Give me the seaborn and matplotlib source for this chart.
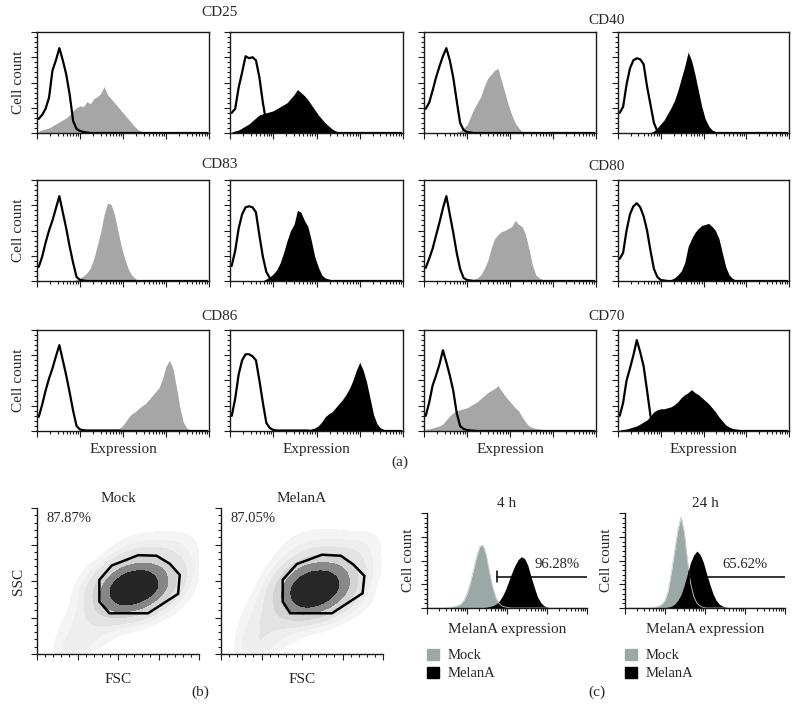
"""Flow cytometry panel: marker histograms (a), FSC/SSC gates (b), MelanA expression (c)."""
import numpy as np
import pandas as pd
import matplotlib
matplotlib.use('Agg')
import matplotlib.pyplot as plt
from matplotlib.ticker import MultipleLocator, FixedLocator, NullFormatter
from matplotlib.patches import Patch, Polygon
import seaborn as sns

sns.set_theme(style='white')
plt.rcParams['font.family'] = ['Liberation Serif', 'DejaVu Serif']
plt.rcParams.update({'font.size': 10.5, 'axes.linewidth': 1.0, 'axes.edgecolor': 'black'})

# ---------- data: 50 log bins over 4 decades, heights in % of axis ----------
CD25_GRAY_ISO = [14, 18, 24, 35, 62, 72, 84, 72, 58, 38, 12, 4, 2, 1, 0.5, 0, 0, 0, 0, 0,
                 0, 0, 0, 0, 0, 0, 0, 0, 0, 0, 0, 0, 0, 0, 0, 0, 0, 0, 0, 0, 0, 0, 0, 0, 0, 0, 0, 0, 0, 0]
CD25_GRAY = [2, 3, 4, 5, 7, 9, 11, 13, 15, 18, 22, 25, 27, 26, 31, 29, 34, 36, 39, 46,
             38, 34, 30, 26, 22, 18, 14, 10, 6, 3, 1.5, 0.8, 0.3, 0, 0, 0, 0, 0, 0, 0, 0, 0, 0, 0, 0, 0, 0, 0, 0, 0]
CD25_BLACK_ISO = [20, 24, 45, 60, 76, 74, 75, 72, 55, 30, 10, 4, 1.5, 0.5, 0, 0, 0, 0, 0, 0,
                  0, 0, 0, 0, 0, 0, 0, 0, 0, 0, 0, 0, 0, 0, 0, 0, 0, 0, 0, 0, 0, 0, 0, 0, 0, 0, 0, 0, 0, 0]
CD25_BLACK = [1, 2, 3, 5, 7, 9, 12, 15, 18, 19, 20, 21, 22, 24, 26, 28, 30, 34, 38, 43,
              40, 37, 33, 28, 23, 18, 14, 10, 7, 4, 2, 1, 0.5, 0.3, 0, 0, 0, 0, 0, 0, 0, 0, 0, 0, 0, 0, 0, 0, 0, 0]

CD40_GRAY_ISO = [24, 30, 42, 55, 66, 76, 84, 72, 55, 32, 10, 3, 1, 0.5, 0, 0, 0, 0, 0, 0,
                 0, 0, 0, 0, 0, 0, 0, 0, 0, 0, 0, 0, 0, 0, 0, 0, 0, 0, 0, 0, 0, 0, 0, 0, 0, 0, 0, 0, 0, 0]
CD40_GRAY = [0, 0, 0, 0, 0, 0, 0, 0, 0, 0.5, 2, 5, 8, 16, 24, 30, 36, 46, 54, 58,
             62, 64, 52, 40, 28, 18, 10, 5, 1.5, 0.5, 0, 0, 0, 0, 0, 0, 0, 0, 0, 0, 0, 0, 0, 0, 0, 0, 0, 0, 0, 0]
CD40_BLACK_ISO = [20, 26, 48, 64, 72, 74, 73, 68, 46, 28, 10, 2, 0.5, 0, 0, 0, 0, 0, 0, 0,
                  0, 0, 0, 0, 0, 0, 0, 0, 0, 0, 0, 0, 0, 0, 0, 0, 0, 0, 0, 0, 0, 0, 0, 0, 0, 0, 0, 0, 0, 0]
CD40_BLACK = [0, 0, 0, 0, 0, 0, 0, 0, 0, 0.5, 2, 5, 9, 13, 19, 25, 32, 42, 54, 66,
              80, 72, 58, 42, 26, 14, 7, 3, 1.5, 0.5, 0, 0, 0, 0, 0, 0, 0, 0, 0, 0, 0, 0, 0, 0, 0, 0, 0, 0, 0, 0]

CD83_GRAY_ISO = [14, 24, 38, 50, 60, 72, 84, 68, 52, 34, 18, 4, 1, 0.5, 0, 0, 0, 0, 0, 0,
                 0, 0, 0, 0, 0, 0, 0, 0, 0, 0, 0, 0, 0, 0, 0, 0, 0, 0, 0, 0, 0, 0, 0, 0, 0, 0, 0, 0, 0, 0]
CD83_GRAY = [0.3, 0.3, 0.3, 0.3, 0.3, 0.3, 0.3, 0.3, 0.3, 0.3, 0.3, 1.5, 3, 5, 8, 13, 22, 35, 48, 66,
             77, 76, 66, 50, 34, 22, 12, 6, 2.5, 0.8, 0.3, 0, 0, 0, 0, 0, 0, 0, 0, 0, 0, 0, 0, 0, 0, 0, 0, 0, 0, 0]
CD83_BLACK_ISO = [15, 30, 52, 66, 73, 74, 73, 68, 45, 24, 9, 3, 1, 0, 0, 0, 0, 0, 0, 0,
                  0, 0, 0, 0, 0, 0, 0, 0, 0, 0, 0, 0, 0, 0, 0, 0, 0, 0, 0, 0, 0, 0, 0, 0, 0, 0, 0, 0, 0, 0]
CD83_BLACK = [0.3, 0.3, 0.3, 0.3, 0.3, 0.3, 0.3, 0.3, 0.3, 0.3, 2, 4, 7, 11, 18, 28, 40, 50, 56, 70,
              68, 60, 54, 40, 24, 14, 6, 3, 2, 1, 0.5, 0, 0, 0, 0, 0, 0, 0, 0, 0, 0, 0, 0, 0, 0, 0, 0, 0, 0, 0]

CD80_GRAY_ISO = [13, 22, 32, 45, 58, 72, 84, 66, 48, 28, 12, 3, 1, 0.5, 0, 0, 0, 0, 0, 0,
                 0, 0, 0, 0, 0, 0, 0, 0, 0, 0, 0, 0, 0, 0, 0, 0, 0, 0, 0, 0, 0, 0, 0, 0, 0, 0, 0, 0, 0, 0]
CD80_GRAY = [0, 0, 0, 0, 0, 0, 0, 0, 0, 0, 0, 0, 0.5, 1, 2, 3, 6, 12, 20, 32,
             42, 46, 49, 50, 52, 54, 60, 56, 54, 46, 32, 16, 6, 3, 1.5, 0.5, 0, 0, 0, 0, 0, 0, 0, 0, 0, 0, 0, 0, 0, 0]
CD80_BLACK_ISO = [22, 28, 50, 66, 74, 77, 73, 64, 50, 30, 12, 4, 1, 0.5, 0, 0, 0, 0, 0, 0,
                  0, 0, 0, 0, 0, 0, 0, 0, 0, 0, 0, 0, 0, 0, 0, 0, 0, 0, 0, 0, 0, 0, 0, 0, 0, 0, 0, 0, 0, 0]
CD80_BLACK = [0, 0, 0, 0, 0, 0, 0, 0, 0, 0, 0, 0, 0.5, 0.8, 1, 1.5, 3, 6, 10, 18,
              34, 42, 48, 52, 55, 56, 57, 54, 50, 42, 28, 14, 6, 2.5, 1, 0.5, 0, 0, 0, 0, 0, 0, 0, 0, 0, 0, 0, 0, 0, 0]

CD86_GRAY_ISO = [14, 26, 40, 52, 62, 74, 85, 70, 55, 38, 20, 5, 1.5, 0.8, 0.5, 0.5, 0.5, 0.5, 0.5, 0.5,
                 0.5, 0.5, 0.5, 0.5, 0, 0, 0, 0, 0, 0, 0, 0, 0, 0, 0, 0, 0, 0, 0, 0, 0, 0, 0, 0, 0, 0, 0, 0, 0, 0]
CD86_GRAY = [0, 0, 0, 0, 0, 0, 0, 0, 0, 0, 0, 0, 0, 0, 0, 0, 0, 0, 0.5, 0.5,
             0.5, 0.5, 1, 2, 4, 8, 13, 17, 19, 22, 25, 27, 31, 35, 39, 43, 52, 64, 70, 62,
             44, 24, 9, 3, 1, 0.3, 0, 0, 0, 0]
CD86_BLACK_ISO = [15, 32, 56, 70, 76, 76, 74, 70, 50, 28, 8, 3, 1, 0.5, 0.5, 0.5, 0.5, 0.5, 0.5, 0.5,
                  0.5, 0.5, 0.5, 0, 0, 0, 0, 0, 0, 0, 0, 0, 0, 0, 0, 0, 0, 0, 0, 0, 0, 0, 0, 0, 0, 0, 0, 0, 0, 0]
CD86_BLACK = [0, 0, 0, 0, 0, 0, 0, 0, 0, 0, 0, 0, 0, 0, 0, 0, 0, 0, 0, 0,
              0.5, 0.5, 1, 2, 3, 5, 9, 14, 17, 19, 23, 27, 31, 36, 42, 50, 60, 68, 60, 48,
              32, 16, 7, 3, 1.5, 0.8, 0.3, 0, 0, 0]

CD70_GRAY_ISO = [15, 28, 45, 55, 66, 80, 68, 55, 40, 18, 5, 2, 1, 0.5, 0.3, 0, 0, 0, 0, 0,
                 0, 0, 0, 0, 0, 0, 0, 0, 0, 0, 0, 0, 0, 0, 0, 0, 0, 0, 0, 0, 0, 0, 0, 0, 0, 0, 0, 0, 0, 0]
CD70_GRAY = [2, 2, 3, 4, 5, 7, 11, 15, 18, 20, 21, 22, 23, 25, 27, 29, 32, 35, 38, 40,
             42, 45, 40, 35, 31, 27, 23, 20, 14, 9, 5, 3.5, 2.5, 2, 1.5, 1, 0.8, 0.5, 0.3, 0,
             0, 0, 0, 0, 0, 0, 0, 0, 0, 0]
CD70_BLACK_ISO = [15, 28, 50, 62, 75, 90, 78, 64, 40, 15, 5, 2, 0.5, 0, 0, 0, 0, 0, 0, 0,
                  0, 0, 0, 0, 0, 0, 0, 0, 0, 0, 0, 0, 0, 0, 0, 0, 0, 0, 0, 0, 0, 0, 0, 0, 0, 0, 0, 0, 0, 0]
CD70_BLACK = [1, 1.5, 2, 3, 4, 5, 7, 9, 11, 15, 19, 21, 22, 22, 23, 24, 26, 29, 33, 36,
              38, 41, 38, 36, 33, 30, 27, 23, 19, 14, 10, 6, 4, 2.5, 2, 1.5, 1, 0.8, 0.5, 0.3,
              0, 0, 0, 0, 0, 0, 0, 0, 0, 0]

MARKERS = ['CD25', 'CD40', 'CD83', 'CD80', 'CD86', 'CD70']

# panel (c)
H4_MOCK = [0, 0, 0, 0, 0, 0, 0.5, 1, 1.5, 2.5, 4, 8, 15, 26, 40, 54, 65, 66, 56, 38,
           22, 11, 5, 2, 1, 0.3, 0, 0, 0, 0, 0, 0, 0, 0, 0, 0, 0, 0, 0, 0, 0, 0, 0, 0, 0, 0, 0, 0, 0, 0]
H4_MELANA = [0, 0, 0, 0, 0, 0, 0, 0, 0, 0, 0, 0, 0, 0, 0, 0, 0.3, 0.5, 0.8, 1.5,
             2.5, 4, 7, 12, 19, 28, 37, 45, 51, 54, 52, 45, 33, 22, 12, 6, 2.5, 1, 0.3, 0,
             0, 0, 0, 0, 0, 0, 0, 0, 0, 0]
H24_MOCK = [0, 0, 0, 0, 0, 0, 0, 0, 0.5, 1, 2, 4, 8, 18, 38, 60, 82, 96, 80, 50,
            26, 12, 5, 2, 0.5, 0, 0, 0, 0, 0, 0, 0, 0, 0, 0, 0, 0, 0, 0, 0, 0, 0, 0, 0, 0, 0, 0, 0, 0, 0]
H24_MELANA = [0, 0, 0, 0, 0, 0, 0, 0, 0, 0, 0, 0.3, 0.5, 1, 2, 4, 8, 14, 24, 36,
              48, 56, 60, 56, 48, 36, 25, 15, 8, 4, 2, 1, 0.3, 0, 0, 0, 0, 0, 0, 0,
              0, 0, 0, 0, 0, 0, 0, 0, 0, 0]
GATE_PCT = ['96.28%', '65.62%']
GATE_START = [1.74, 1.6]      # decades
GATE_LEVEL = [33, 33]         # % of axis height

# panel (b): FSC/SSC density on a 10x10 grid (rows: SSC high -> low, cols: FSC low -> high)
MOCK_DENSITY = [
    [0, 0, 0, 0, 0, 0, 0, 0, 1, 0],
    [0, 0, 0, 0, 0, 1, 1, 1, 1, 1],
    [0, 0, 0, 0, 1, 2, 3, 3, 3, 2],
    [0, 0, 0, 1, 3, 6, 7, 6, 4, 3],
    [0, 0, 1, 3, 10, 18, 20, 14, 6, 3],
    [0, 0, 2, 6, 18, 30, 28, 18, 6, 2],
    [0, 0, 2, 5, 14, 20, 16, 8, 3, 1],
    [0, 1, 3, 4, 5, 5, 4, 2, 1, 0],
    [0, 2, 3, 3, 2, 1, 1, 0, 0, 0],
    [0, 3, 6, 2, 1, 0, 0, 0, 0, 0],
]
MELANA_DENSITY = [
    [0, 0, 0, 0, 0, 1, 1, 1, 0, 0],
    [0, 0, 0, 0, 1, 1, 1, 1, 1, 1],
    [0, 0, 0, 1, 2, 3, 3, 3, 3, 2],
    [0, 0, 0, 2, 4, 7, 7, 6, 4, 2],
    [0, 0, 1, 4, 12, 18, 18, 12, 5, 2],
    [0, 0, 2, 7, 20, 30, 26, 15, 5, 1],
    [0, 1, 3, 6, 16, 22, 16, 8, 3, 1],
    [0, 2, 4, 5, 6, 6, 4, 2, 1, 0],
    [0, 3, 4, 3, 2, 1, 1, 0, 0, 0],
    [0, 4, 5, 2, 1, 0, 0, 0, 0, 0],
]
GRID_CENTERS = [0.05, 0.15, 0.25, 0.35, 0.45, 0.55, 0.65, 0.75, 0.85, 0.95]
MOCK_GATE_X = [0.385, 0.461, 0.625, 0.738, 0.820, 0.881, 0.871, 0.686, 0.447, 0.385]
MOCK_GATE_Y = [0.508, 0.606, 0.677, 0.673, 0.618, 0.542, 0.412, 0.279, 0.279, 0.359]
MELANA_GATE_X = [0.381, 0.468, 0.623, 0.740, 0.819, 0.885, 0.874, 0.685, 0.427, 0.381]
MELANA_GATE_Y = [0.508, 0.616, 0.680, 0.673, 0.611, 0.535, 0.416, 0.279, 0.279, 0.359]
GATE_PCTS_B = ['87.87%', '87.05%']

GRAY_A = '#a6a6a6'
MOCK_C = '#9aa9a6'

EDGES = list(np.linspace(0, 4, 51))
CENTERS = [(a + b) / 2 for a, b in zip(EDGES[:-1], EDGES[1:])]
LOG_MINOR = [d + np.log10(k) for d in range(4) for k in range(2, 10)]

W, H = 799, 707
fig = plt.figure(figsize=(W / 100, H / 100), dpi=100)


def box(l, t, r, b):
    return fig.add_axes([l / W, 1 - b / H, (r - l) / W, (b - t) / H])


def hist(ax, vals, color, fill=True, lw=0):
    df = pd.DataFrame({'x': CENTERS, 'w': np.asarray(vals, float)})
    kws = dict(edgecolor=color) if fill else {}
    sns.histplot(data=df, x='x', weights='w', bins=EDGES, element='poly', fill=fill,
                 color=color, alpha=1, linewidth=lw, ax=ax, **kws)


def hist_axes(ax, full_box=True):
    ax.set_xlim(0, 4); ax.set_ylim(0, 100)
    ax.xaxis.set_major_locator(FixedLocator([0, 1, 2, 3, 4]))
    ax.xaxis.set_minor_locator(FixedLocator(LOG_MINOR))
    ax.yaxis.set_major_locator(MultipleLocator(25))
    ax.yaxis.set_minor_locator(MultipleLocator(5))
    ax.xaxis.set_major_formatter(NullFormatter()); ax.yaxis.set_major_formatter(NullFormatter())
    ax.tick_params(which='both', direction='out', bottom=True, left=True, color='k', width=0.8)
    ax.tick_params(which='major', length=4)
    ax.tick_params(which='minor', length=2)
    ax.set_xlabel(''); ax.set_ylabel('')
    for s in ['top', 'right']:
        ax.spines[s].set_visible(full_box)
    for s in ax.spines.values():
        s.set_color('k'); s.set_linewidth(1.0)


# ---------- (a) marker histograms ----------
cols = [(37, 209), (230, 403), (424, 596), (618, 789)]
rows = [(32, 133), (180, 281), (330, 431)]
data = {
    'CD25': (CD25_GRAY_ISO, CD25_GRAY, CD25_BLACK_ISO, CD25_BLACK),
    'CD40': (CD40_GRAY_ISO, CD40_GRAY, CD40_BLACK_ISO, CD40_BLACK),
    'CD83': (CD83_GRAY_ISO, CD83_GRAY, CD83_BLACK_ISO, CD83_BLACK),
    'CD80': (CD80_GRAY_ISO, CD80_GRAY, CD80_BLACK_ISO, CD80_BLACK),
    'CD86': (CD86_GRAY_ISO, CD86_GRAY, CD86_BLACK_ISO, CD86_BLACK),
    'CD70': (CD70_GRAY_ISO, CD70_GRAY, CD70_BLACK_ISO, CD70_BLACK),
}
title_y = [[13, 20], [165, 166], [316, 316]]
for r, (t, b) in enumerate(rows):
    for half in range(2):
        name = MARKERS[r * 2 + half]
        g_iso, g_fill, b_iso, b_fill = data[name]
        for k, (fill_vals, iso_vals, color) in enumerate([(g_fill, g_iso, GRAY_A), (b_fill, b_iso, 'black')]):
            c = half * 2 + k
            ax = box(cols[c][0], t, cols[c][1], b)
            hist(ax, fill_vals, color)
            hist(ax, iso_vals, 'black', fill=False, lw=1.6)
            hist_axes(ax)
            if c == 0:
                ax.set_ylabel('Cell count', fontsize=11, labelpad=1)
            if r == 2:
                ax.set_xlabel('Expression', fontsize=11, labelpad=1)
        gap = (cols[half * 2][1] + cols[half * 2 + 1][0]) / 2
        fig.text(gap / W, 1 - title_y[r][half] / H, name, ha='center', va='center', fontsize=11)

fig.text(400 / W, 1 - 462 / H, '(a)', ha='center', va='center', fontsize=11)

# ---------- (b) FSC / SSC gates ----------
gx, gy = np.meshgrid(GRID_CENTERS, GRID_CENTERS[::-1])
dot_cmap = sns.blend_palette(['#f7f7f7', '#cfcfcf', '#454545', '#000000'], as_cmap=True)
b_panels = [(37, 199, 'Mock', MOCK_DENSITY, MOCK_GATE_X, MOCK_GATE_Y),
            (221, 383, 'MelanA', MELANA_DENSITY, MELANA_GATE_X, MELANA_GATE_Y)]
for i, (l, r, ttl, dens, gxs, gys) in enumerate(b_panels):
    ax = box(l, 508, r, 654)
    df = pd.DataFrame({'FSC': gx.ravel(), 'SSC': gy.ravel(), 'n': np.array(dens, float).ravel()})
    sns.kdeplot(data=df, x='FSC', y='SSC', weights='n', fill=True, cmap=dot_cmap,
                levels=[0.05, 0.12, 0.22, 0.35, 0.5, 0.7, 1.0],
                bw_adjust=0.65, clip=((0, 1), (0, 1)), ax=ax)
    ax.add_patch(Polygon(list(zip(gxs, gys)), closed=True, fill=False, ec='black', lw=1.8))
    ax.set_xlim(0, 1); ax.set_ylim(0, 1)
    ax.xaxis.set_major_locator(MultipleLocator(0.25)); ax.xaxis.set_minor_locator(MultipleLocator(0.05))
    ax.yaxis.set_major_locator(MultipleLocator(0.25)); ax.yaxis.set_minor_locator(MultipleLocator(0.05))
    ax.xaxis.set_major_formatter(NullFormatter()); ax.yaxis.set_major_formatter(NullFormatter())
    ax.tick_params(which='both', direction='out', bottom=True, left=True, color='k', width=0.8)
    ax.tick_params(which='major', length=4); ax.tick_params(which='minor', length=2)
    for s in ['top', 'right']:
        ax.spines[s].set_visible(False)
    for s in ['left', 'bottom']:
        ax.spines[s].set_color('k')
    ax.set_xlabel('FSC', fontsize=11, labelpad=6)
    ax.set_ylabel('SSC' if i == 0 else '', fontsize=11, labelpad=1)
    ax.set_title(ttl, fontsize=11, pad=4)
    ax.text(0.06, 0.93, GATE_PCTS_B[i], transform=ax.transAxes, ha='left', va='center', fontsize=10.5)

fig.text(200 / W, 1 - 692 / H, '(b)', ha='center', va='center', fontsize=11)

# ---------- (c) MelanA expression ----------
c_panels = [(427, 587, '4 h', H4_MOCK, H4_MELANA),
            (625, 785, '24 h', H24_MOCK, H24_MELANA)]
for i, (l, r, ttl, mock, mel) in enumerate(c_panels):
    ax = box(l, 513, r, 608)
    hist(ax, mock, MOCK_C)
    hist(ax, mel, 'black')
    hist(ax, mock, '#c9d2d0', fill=False, lw=0.6)
    hist_axes(ax, full_box=False)
    x0, lvl = GATE_START[i], GATE_LEVEL[i]
    ax.plot([x0, 4], [lvl, lvl], color='black', lw=1.1)
    ax.plot([x0, x0], [lvl - 6, lvl + 6], color='black', lw=1.1)
    ax.text(3.0 if i else 3.24, 46, GATE_PCT[i], ha='center', va='center', fontsize=10.5)
    ax.set_ylabel('Cell count', fontsize=11, labelpad=1)
    ax.set_xlabel('MelanA expression', fontsize=11, labelpad=3)
    ax.set_title(ttl, fontsize=11, pad=4)
    handles = [Patch(color=MOCK_C, label='Mock'), Patch(color='black', label='MelanA')]
    ax.legend(handles=handles, loc='upper left', bbox_to_anchor=(-0.08, -0.29), frameon=False,
              handlelength=0.8, handleheight=0.8, handletextpad=0.6, labelspacing=0.3, fontsize=10.5)

fig.text(597 / W, 1 - 692 / H, '(c)', ha='center', va='center', fontsize=11)

plt.savefig('out.png', dpi=100)
